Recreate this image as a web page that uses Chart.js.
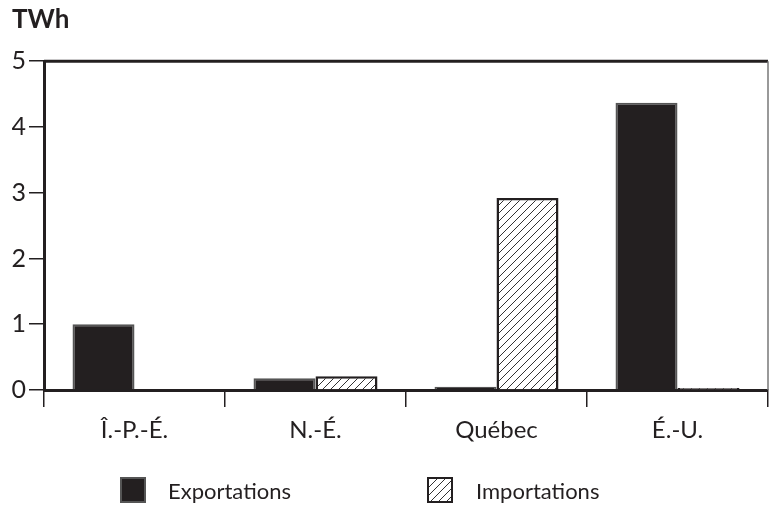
<!DOCTYPE html>
<html><head><meta charset="utf-8">
<script src="https://cdn.jsdelivr.net/npm/chart.js@4"></script>
<style>
html,body{margin:0;padding:0;background:#fff;}
#wrap{position:relative;width:769px;height:506px;}
#legend{position:absolute;left:0;top:0;width:769px;height:506px;pointer-events:none;font-family:Lato,"Open Sans",sans-serif;font-size:22px;color:#231f20;}
.sw{position:absolute;width:22px;height:22px;border:2px solid #555;box-sizing:content-box;}
.lt{position:absolute;line-height:26px;}
</style>
</head><body>
<div id="wrap"><canvas id="c" width="769" height="506"></canvas>
<div id="legend"></div></div>
<script>
const categories = ["Î.-P.-É.", "N.-É.", "Québec", "É.-U."];
const exportations = [1.0, 0.18, 0.05, 4.37];
const importations = [0.0, 0.21, 2.92, 0.03];
const seriesNames = ["Exportations", "Importations"];
const yTicks = [0, 1, 2, 3, 4, 5];
const unitLabel = "TWh";

const DARK = "#231f20";
const FONT = 'Lato, "Open Sans", sans-serif';

function hatch(){
  const p = document.createElement('canvas');
  p.width = 8; p.height = 8;
  const g = p.getContext('2d');
  g.fillStyle = '#fff'; g.fillRect(0,0,8,8);
  g.strokeStyle = '#333'; g.lineWidth = 1;
  g.beginPath();
  g.moveTo(0,8); g.lineTo(8,0);
  g.moveTo(-2,2); g.lineTo(2,-2);
  g.moveTo(6,10); g.lineTo(10,6);
  g.stroke();
  return p;
}
const hatchCanvas = hatch();
const ctx = document.getElementById('c').getContext('2d');
const pattern = ctx.createPattern(hatchCanvas, 'repeat');

const frame = {
  id: 'frame',
  afterDatasetsDraw(chart){
    const a = chart.chartArea, g = chart.ctx;
    g.save();
    g.strokeStyle = DARK; g.lineWidth = 3;
    g.beginPath(); g.moveTo(a.left, a.top); g.lineTo(a.right, a.top); g.stroke();
    g.strokeStyle = '#777'; g.lineWidth = 1.5;
    g.beginPath(); g.moveTo(a.right, a.top); g.lineTo(a.right, a.bottom); g.stroke();
    g.restore();
  }
};

new Chart(ctx, {
  type: 'bar',
  data: {
    labels: categories,
    datasets: [
      {label: seriesNames[0], data: exportations, backgroundColor: DARK, borderColor: '#555', borderWidth: 2},
      {label: seriesNames[1], data: importations, backgroundColor: pattern, borderColor: DARK, borderWidth: 2.5}
    ]
  },
  options: {
    responsive: false,
    animation: false,
    layout: {padding: {left: 12, right: 1, top: 0, bottom: 0}},
    categoryPercentage: 0.685,
    barPercentage: 1.0,
    plugins: {
      legend: {display: false},
      tooltip: {enabled: false},
      title: {display: true, text: unitLabel, align: 'start', color: DARK,
        font: {family: FONT, size: 26, weight: 'bold'}, padding: {top: 4, bottom: 26}}
    },
    scales: {
      x: {
        grid: {display: true, drawOnChartArea: false, offset: true, tickLength: 17, color: DARK, lineWidth: 1.5},
        border: {display: true, color: DARK, width: 3},
        ticks: {color: DARK, font: {family: FONT, size: 24}, padding: 9},
        afterFit(s){ s.height = 116; }
      },
      y: {
        min: 0, max: 5,
        afterBuildTicks(s){ s.ticks = yTicks.map(v => ({value: v})); },
        grid: {display: true, drawOnChartArea: false, tickLength: 15, color: DARK, lineWidth: 1.5},
        border: {display: true, color: DARK, width: 3},
        ticks: {color: DARK, font: {family: FONT, size: 25}, padding: 3},
        afterFit(s){ s.width = 32; }
      }
    }
  },
  plugins: [frame]
});

// legend
const lg = document.getElementById('legend');
const items = [
  {name: seriesNames[0], sx: 120, tx: 168, fill: DARK},
  {name: seriesNames[1], sx: 427, tx: 476, fill: null}
];
items.forEach(it => {
  const sw = document.createElement('div');
  sw.className = 'sw';
  sw.style.left = it.sx + 'px'; sw.style.top = '477px';
  if (it.fill) sw.style.background = it.fill;
  else { sw.style.backgroundImage = 'url(' + hatchCanvas.toDataURL() + ')'; sw.style.borderColor = DARK; }
  lg.appendChild(sw);
  const t = document.createElement('div');
  t.className = 'lt'; t.textContent = it.name;
  t.style.left = it.tx + 'px'; t.style.top = '478px';
  lg.appendChild(t);
});
</script>
</body></html>
